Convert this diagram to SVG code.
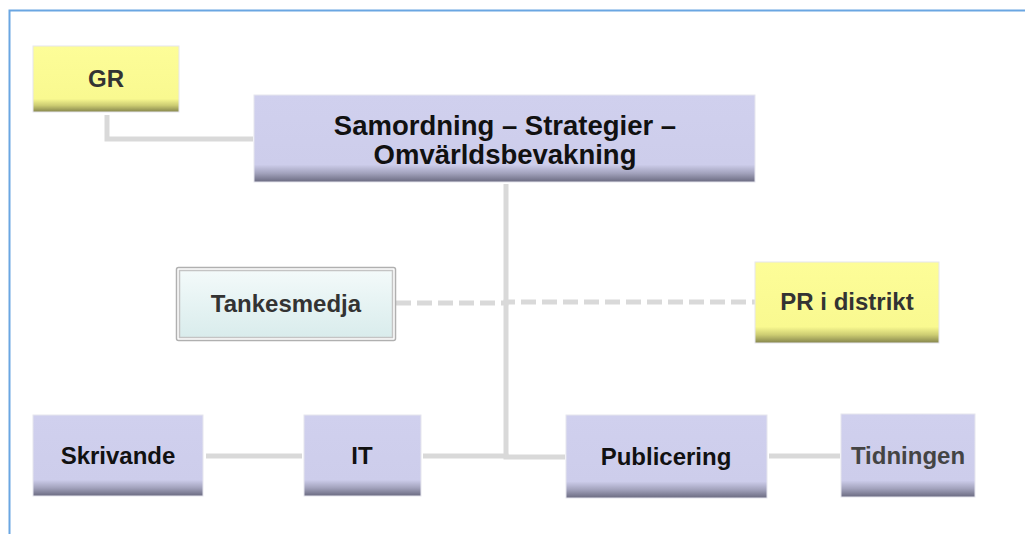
<svg xmlns="http://www.w3.org/2000/svg" width="1025" height="534" viewBox="0 0 1025 534">
<defs>
<linearGradient id="gPurple" x1="0" y1="0" x2="0" y2="1">
<stop offset="0" stop-color="#d0d0ee"/>
<stop offset="0.8" stop-color="#cdcdeb"/>
<stop offset="0.9" stop-color="#a2a2bc"/>
<stop offset="1" stop-color="#6a6a80"/>
</linearGradient>
<linearGradient id="gYellow" x1="0" y1="0" x2="0" y2="1">
<stop offset="0" stop-color="#fdfd98"/>
<stop offset="0.8" stop-color="#f9f990"/>
<stop offset="0.9" stop-color="#cccc72"/>
<stop offset="1" stop-color="#84844c"/>
</linearGradient>
<linearGradient id="gCyan" x1="0" y1="0" x2="0" y2="1">
<stop offset="0" stop-color="#f3fafa"/>
<stop offset="1" stop-color="#d9ecec"/>
</linearGradient>
</defs>
<style>
.lbl{font-family:"Liberation Sans",Arial,sans-serif;font-weight:bold;font-size:24px;text-anchor:middle;fill:#333333}
.dark{fill:#111111}
.main{font-size:27.5px}
.box{stroke:#e6e6ee;stroke-width:1}
.con{stroke:#d9d9d9;stroke-width:5;fill:none}
.dash{stroke-dasharray:15 6}
</style>
<rect x="0" y="0" width="1025" height="534" fill="#ffffff"/>
<path d="M9.5,534 V10.5 H1025" fill="none" stroke="#6aa6e2" stroke-width="2"/>
<g id="connectors">
<path class="con" d="M107,115 V139 H253"/>
<path class="con" d="M506,184 V457"/>
<path class="con" d="M423,456 H506 V457 H565"/>
<path class="con" d="M206,456 H302"/>
<path class="con" d="M769,456 H840"/>
<path class="con dash" d="M396,303 H506 V302 H755"/>
</g>
<g id="GR">
<rect class="box" x="33" y="46" width="146" height="66" fill="url(#gYellow)"/>
<text class="lbl" x="106" y="87">GR</text>
</g>
<g id="Samordning">
<rect class="box" x="254" y="95" width="501" height="87" fill="url(#gPurple)"/>
<text class="lbl dark main" x="505" y="135">Samordning – Strategier –</text>
<text class="lbl dark main" x="505" y="164">Omvärldsbevakning</text>
</g>
<g id="Tankesmedja">
<rect x="176.5" y="267.5" width="219" height="73" rx="2" fill="#ffffff" stroke="#b0b0b0" stroke-width="1.5"/>
<rect x="179.5" y="270.5" width="213" height="67" fill="url(#gCyan)" stroke="#c4c4c4" stroke-width="1.5"/>
<text class="lbl" x="286" y="312">Tankesmedja</text>
</g>
<g id="PR">
<rect class="box" x="755" y="262" width="184" height="81" fill="url(#gYellow)"/>
<text class="lbl" x="847" y="310">PR i distrikt</text>
</g>
<g id="Skrivande">
<rect class="box" x="33" y="415" width="170" height="81" fill="url(#gPurple)"/>
<text class="lbl dark" x="118" y="464">Skrivande</text>
</g>
<g id="IT">
<rect class="box" x="304" y="415" width="117" height="81" fill="url(#gPurple)"/>
<text class="lbl dark" x="362" y="464">IT</text>
</g>
<g id="Publicering">
<rect class="box" x="566" y="415" width="201" height="83" fill="url(#gPurple)"/>
<text class="lbl dark" x="666" y="465">Publicering</text>
</g>
<g id="Tidningen">
<rect class="box" x="841" y="414" width="134" height="83" fill="url(#gPurple)"/>
<text class="lbl" x="908" y="464" style="fill:#444444">Tidningen</text>
</g>
</svg>
